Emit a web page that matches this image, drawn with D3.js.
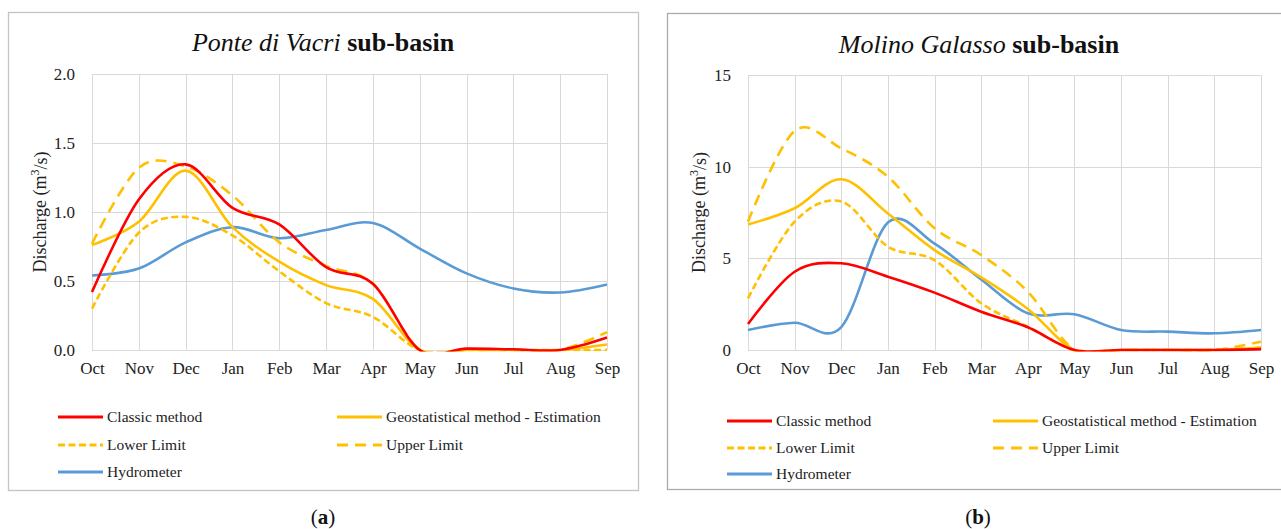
<!DOCTYPE html>
<html>
<head>
<meta charset="utf-8">
<script src="https://cdn.jsdelivr.net/npm/d3@7"></script>
<style>
	body { margin: 0; background: #fff; }
	svg { display: block; font-family: 'Liberation Serif', serif; }
</style>
</head>
<body>
<svg id="chart" width="1281" height="529"></svg>
<script>
// months along the x axis (hydrological year)
var months = [ 'Oct', 'Nov', 'Dec', 'Jan', 'Feb', 'Mar', 'Apr', 'May', 'Jun', 'Jul', 'Aug', 'Sep' ];

// Ponte di Vacri sub-basin (m3/s)
var vacriClassic = [ 0.42, 1.09, 1.345, 1.03, 0.91, 0.6, 0.48, 0, 0.01, 0.005, 0, 0.09 ];
var vacriEstimate = [ 0.76, 0.93, 1.3, 0.89, 0.64, 0.47, 0.37, 0, 0, 0, 0, 0.04 ];
var vacriLower = [ 0.3, 0.85, 0.965, 0.83, 0.57, 0.34, 0.24, 0, 0, 0, 0, 0 ];
var vacriUpper = [ 0.77, 1.32, 1.33, 1.12, 0.78, 0.61, 0.48, 0, 0, 0, 0, 0.13 ];
var vacriHydro = [ 0.54, 0.59, 0.78, 0.89, 0.81, 0.87, 0.92, 0.735, 0.555, 0.446, 0.417, 0.475 ];
var vacriTicks = [ 0, 0.5, 1, 1.5, 2 ];

// Molino Galasso sub-basin (m3/s)
var galassoClassic = [ 1.42, 4.27, 4.73, 4.0, 3.13, 2.09, 1.24, 0, 0, 0, 0, 0.05 ];
var galassoEstimate = [ 6.85, 7.73, 9.31, 7.45, 5.45, 3.96, 2.24, 0, 0, 0, 0, 0.13 ];
var galassoLower = [ 2.82, 7.0, 8.1, 5.64, 4.9, 2.55, 1.27, 0, 0, 0, 0, 0.13 ];
var galassoUpper = [ 7.0, 11.95, 11.0, 9.45, 6.64, 5.18, 3.18, 0, 0, 0, 0, 0.45 ];
var galassoHydro = [ 1.09, 1.49, 1.25, 6.95, 5.8, 3.85, 2.0, 1.95, 1.09, 1.0, 0.91, 1.09 ];
var galassoTicks = [ 0, 5, 10, 15 ];

var seriesNames = [ 'Classic method', 'Geostatistical method - Estimation', 'Lower Limit', 'Upper Limit', 'Hydrometer' ];

var red = '#ff0000';
var gold = '#ffc000';
var blue = '#5b9bd5';

var styles = {
	'Classic method': { color: red, dash: null },
	'Geostatistical method - Estimation': { color: gold, dash: null },
	'Lower Limit': { color: gold, dash: '7,3.5' },
	'Upper Limit': { color: gold, dash: '11,7' },
	Hydrometer: { color: blue, dash: null }
};

var svg = d3.select('#chart');
var defs = svg.append('defs');

function drawPanel(p) {
	var g = svg.append('g');

	// outer frame
	g
		.append('rect')
		.attr('x', p.box[0] + 0.5)
		.attr('y', p.box[1] + 0.5)
		.attr('width', p.box[2])
		.attr('height', p.box[3])
		.attr('fill', 'none')
		.attr('stroke', p.frame)
		.attr('stroke-width', 1.3);

	var x = d3.scalePoint().domain(months).range([ p.plot.x0, p.plot.x1 ]);
	var y = d3.scaleLinear().domain([ 0, p.yMax ]).range([ p.plot.y1, p.plot.y0 ]);

	// keep smoothing overshoot from dropping under the zero line
	defs
		.append('clipPath')
		.attr('id', 'clip-' + p.caption)
		.append('rect')
		.attr('x', p.plot.x0 - 5)
		.attr('y', p.plot.y0 - 5)
		.attr('width', p.plot.x1 - p.plot.x0 + 10)
		.attr('height', p.plot.y1 - p.plot.y0 + 6.5);

	// grid
	g
		.append('g')
		.selectAll('line.v')
		.data(months)
		.enter()
		.append('line')
		.attr('x1', (d) => Math.round(x(d)) + 0.5)
		.attr('x2', (d) => Math.round(x(d)) + 0.5)
		.attr('y1', y(p.yMax))
		.attr('y2', y(0))
		.attr('stroke', '#d9d9d9')
		.attr('stroke-width', 1);

	g
		.append('g')
		.selectAll('line.h')
		.data(p.ticks)
		.enter()
		.append('line')
		.attr('x1', p.plot.x0)
		.attr('x2', p.plot.x1)
		.attr('y1', (d) => Math.round(y(d)) + 0.5)
		.attr('y2', (d) => Math.round(y(d)) + 0.5)
		.attr('stroke', '#d9d9d9')
		.attr('stroke-width', 1);

	// axes (labels only, Excel style)
	var xAxis = g
		.append('g')
		.attr('transform', `translate(0,${y(0) + 10})`)
		.call(d3.axisBottom(x).tickSize(0).tickPadding(2));
	xAxis.select('.domain').remove();
	xAxis.selectAll('text').attr('font-size', 17).attr('font-family', 'Liberation Serif').attr('fill', '#222');

	var yAxis = g
		.append('g')
		.attr('transform', `translate(${p.plot.x0 - 14},0)`)
		.call(d3.axisLeft(y).tickValues(p.ticks).tickSize(0).tickFormat(d3.format(p.fmt)));
	yAxis.select('.domain').remove();
	yAxis.selectAll('text').attr('font-size', 17).attr('font-family', 'Liberation Serif').attr('fill', '#222');

	// y title
	var yt = g
		.append('text')
		.attr('transform', `translate(${p.yTitleX},${(p.plot.y0 + p.plot.y1) / 2}) rotate(-90)`)
		.attr('text-anchor', 'middle')
		.attr('dy', '0.35em')
		.attr('font-size', 18)
		.attr('fill', '#222');
	yt.append('tspan').text('Discharge (m');
	yt.append('tspan').attr('font-size', 12).attr('dy', '-0.6em').text('3');
	yt.append('tspan').attr('dy', '0.42em').text('/s)');

	// title
	var t = g
		.append('text')
		.attr('x', p.titleX)
		.attr('y', p.titleY)
		.attr('text-anchor', 'middle')
		.attr('font-size', 26)
		.attr('fill', '#111');
	t.append('tspan').attr('font-style', 'italic').text(p.place);
	t.append('tspan').attr('font-weight', 'bold').text(' sub-basin');

	// series
	var line = d3
		.line()
		.x((d, i) => x(months[i]))
		.y((d) => y(d))
		.curve(d3.curveCardinal.tension(0));

	var lines = g.append('g').attr('clip-path', 'url(#clip-' + p.caption + ')');
	var order = [ 4, 2, 3, 1, 0 ];
	order.forEach(function(k) {
		var name = seriesNames[k];
		lines
			.append('path')
			.datum(p.series[k])
			.attr('d', line)
			.attr('fill', 'none')
			.attr('stroke', styles[name].color)
			.attr('stroke-width', 2.6)
			.attr('stroke-dasharray', styles[name].dash);
	});

	// legend
	var slots = [ [ 0, 0 ], [ 1, 0 ], [ 0, 1 ], [ 1, 1 ], [ 0, 2 ] ];
	seriesNames.forEach(function(name, i) {
		var lx = p.legendCols[slots[i][0]];
		var ly = p.legendRows[slots[i][1]];
		g
			.append('line')
			.attr('x1', lx)
			.attr('x2', lx + 45)
			.attr('y1', ly)
			.attr('y2', ly)
			.attr('stroke', styles[name].color)
			.attr('stroke-width', 2.8)
			.attr('stroke-dasharray', styles[name].dash);
		g
			.append('text')
			.attr('x', lx + 49)
			.attr('y', ly)
			.attr('dy', '0.35em')
			.attr('font-size', 15.5)
			.attr('fill', '#222')
			.text(name);
	});

	// caption
	var c = svg
		.append('text')
		.attr('x', p.captionX)
		.attr('y', 517)
		.attr('dy', '0.35em')
		.attr('text-anchor', 'middle')
		.attr('font-size', 21)
		.attr('fill', '#111');
	c.append('tspan').text('(');
	c.append('tspan').attr('font-weight', 'bold').text(p.caption);
	c.append('tspan').text(')');
}

drawPanel({
	box: [ 8, 12, 630, 478 ],
	frame: '#c4c4c4',
	plot: { x0: 92, x1: 607, y0: 74, y1: 350 },
	yMax: 2,
	ticks: vacriTicks,
	fmt: '.1f',
	yTitleX: 40,
	place: 'Ponte di Vacri',
	titleX: 323,
	titleY: 51,
	series: [ vacriClassic, vacriEstimate, vacriLower, vacriUpper, vacriHydro ],
	legendCols: [ 58, 337 ],
	legendRows: [ 417, 445, 472 ],
	caption: 'a',
	captionX: 323
});

drawPanel({
	box: [ 667, 13, 630, 476 ],
	frame: '#ababab',
	plot: { x0: 748, x1: 1261, y0: 75, y1: 350 },
	yMax: 15,
	ticks: galassoTicks,
	fmt: 'd',
	yTitleX: 699,
	place: 'Molino Galasso',
	titleX: 979,
	titleY: 53,
	series: [ galassoClassic, galassoEstimate, galassoLower, galassoUpper, galassoHydro ],
	legendCols: [ 727, 993 ],
	legendRows: [ 421, 448, 474 ],
	caption: 'b',
	captionX: 978
});
</script>
</body>
</html>
